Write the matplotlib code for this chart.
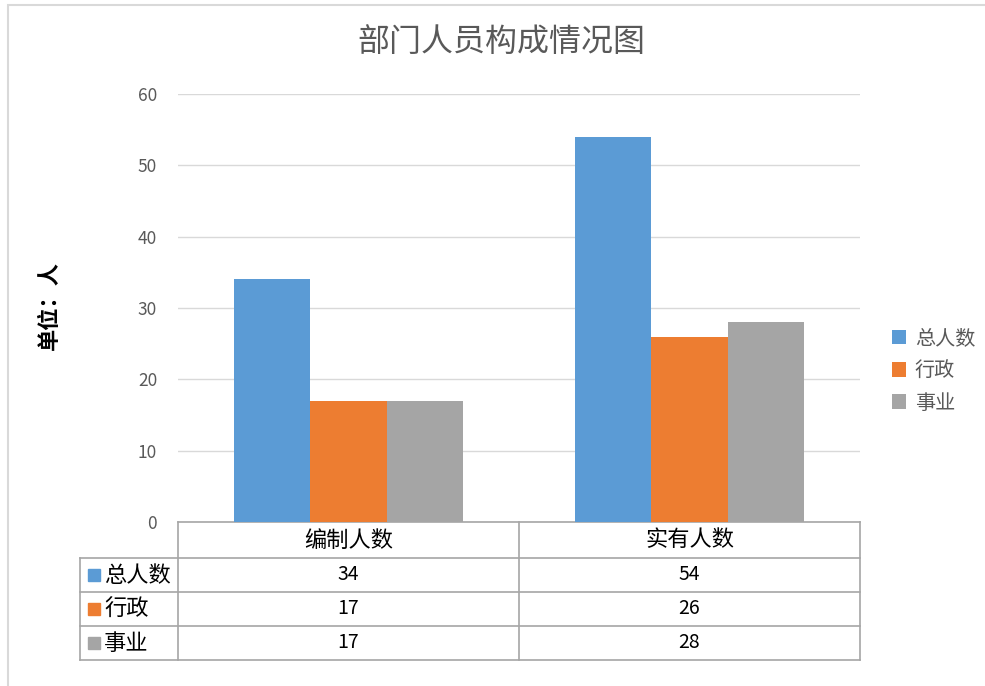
import matplotlib
matplotlib.use('Agg')
import matplotlib.pyplot as plt
from matplotlib.patches import Rectangle
import numpy as np

plt.rcParams['font.family'] = ['Noto Sans CJK SC', 'DejaVu Sans']

categories = ['编制人数', '实有人数']
series_names = ['总人数', '行政', '事业']
total = [34, 54]
admin = [17, 26]
public = [17, 28]
values = [total, admin, public]
colors = ['#5b9bd5', '#ed7d31', '#a5a5a5']

W, H = 985, 686
fig = plt.figure(figsize=(W / 100, H / 100), dpi=100)
L, R, T, B = 178, 860, 94, 522
ax = fig.add_axes([L / W, 1 - B / H, (R - L) / W, (B - T) / H])

x = np.arange(len(categories))
bw = 0.223
for i, (name, vals) in enumerate(zip(series_names, values)):
    ax.bar(x + (i - 1) * bw, vals, bw, color=colors[i], label=name, zorder=3)

ax.set_xlim(-0.5, len(categories) - 0.5)
ax.set_ylim(0, 60)
ax.set_yticks(range(0, 61, 10))
ax.grid(axis='y', color='#d9d9d9', linewidth=1, zorder=0)
ax.set_xticks([])
for s in ax.spines.values():
    s.set_visible(False)
ax.tick_params(axis='y', length=0, labelsize=12.5, labelcolor='#595959', pad=15)

# title and unit label
fig.text(501 / W, 1 - 43 / H, '部门人员构成情况图', ha='center', va='center',
         fontsize=23, color='#595959')
fig.text(49 / W, 1 - 306 / H, '单位：人', ha='center', va='center',
         rotation=90, fontsize=16, fontweight='bold', color='black')

# legend
leg = ax.legend(loc='center left', bbox_to_anchor=(1.02, (B - 371) / (B - T)),
                frameon=False, fontsize=14.5, handlelength=0.7, handleheight=0.7,
                handletextpad=0.45, labelspacing=0.55, labelcolor='#595959')

# data table below the plot
ah = B - T
aw = R - L
def fx(px):
    return (px - L) / aw
def fy(py):
    return (B - py) / ah

lc = '#a6a6a6'
tr = ax.transAxes
rows_y = [522, 558, 592, 626, 660]
col_x = [178, 519, 860]
kw = dict(transform=tr, clip_on=False, color=lc, linewidth=1.2)
# header row
ax.plot([fx(178), fx(860)], [fy(522), fy(522)], **kw)
for py in rows_y[1:]:
    ax.plot([fx(80), fx(860)], [fy(py), fy(py)], **kw)
for px in col_x:
    ax.plot([fx(px), fx(px)], [fy(522), fy(660)], **kw)
ax.plot([fx(80), fx(80)], [fy(558), fy(660)], **kw)

for j, c in enumerate(categories):
    ax.text(fx((col_x[j] + col_x[j + 1]) / 2), fy(540), c, transform=tr,
            ha='center', va='center', fontsize=16, color='black')
for i, (name, vals) in enumerate(zip(series_names, values)):
    yc = (rows_y[i + 1] + rows_y[i + 2]) / 2
    ax.add_patch(Rectangle((fx(88), fy(yc + 6)), 12 / aw, 12 / ah, transform=tr,
                           clip_on=False, color=colors[i]))
    ax.text(fx(104), fy(yc), name, transform=tr, ha='left', va='center',
            fontsize=16, color='black')
    for j, v in enumerate(vals):
        ax.text(fx((col_x[j] + col_x[j + 1]) / 2), fy(yc), str(v), transform=tr,
                ha='center', va='center', fontsize=14, color='black')

# outer chart border
fig.patches.append(Rectangle((8 / W, -0.01), 1.0, 1 - 5 / H + 0.01,
                             transform=fig.transFigure, fill=False,
                             edgecolor='#d9d9d9', linewidth=1.5))

fig.savefig('out.png', dpi=100)
